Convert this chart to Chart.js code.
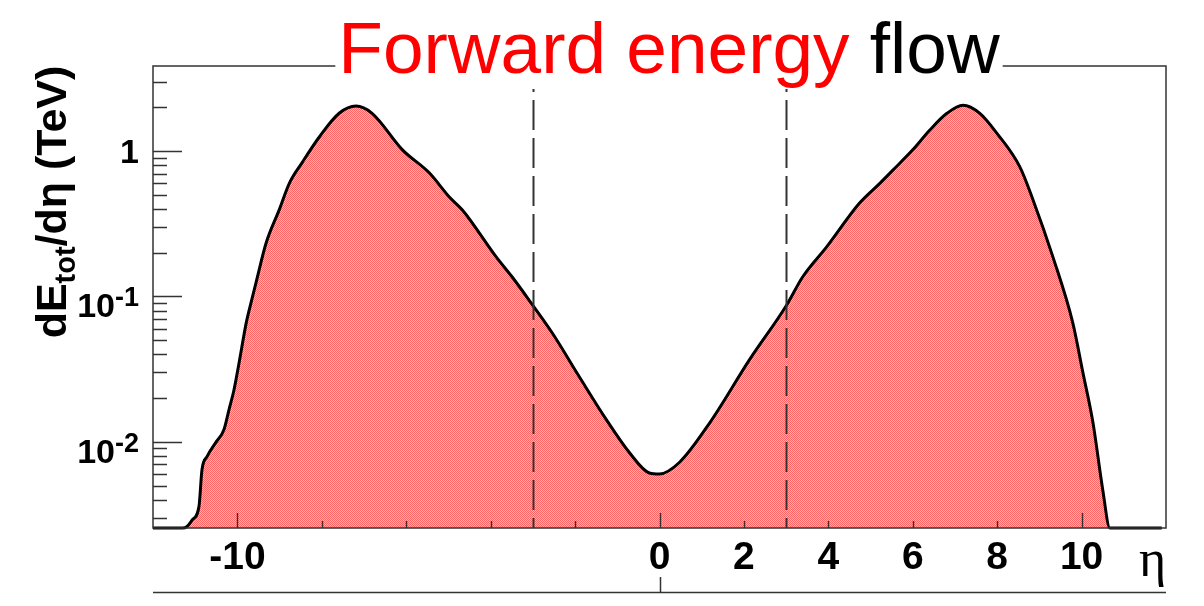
<!DOCTYPE html>
<html>
<head>
<meta charset="utf-8">
<script src="https://cdn.jsdelivr.net/npm/chart.js@4"></script>
<style>
  html, body { margin: 0; padding: 0; background: #fff; }
</style>
</head>
<body>
<canvas id="myChart" width="1204" height="606"></canvas>
<script>
// eta values and dE_tot/deta (TeV)
const eta = [-12, -11.3, -11.2, -11.07, -10.91, -10.84, -10.72, -10.51, -10.32, -10.2,
             -10.08, -9.96, -9.79, -9.68, -9.56, -9.32, -9.01, -8.77, -8.47, -8.06,
             -7.59, -7.19, -6.81, -6.09, -5.45, -4.98, -4.67, -3.87, -3.49, -3.04,
             -2.54, -1.9, -1.26, -0.71, -0.24, 0, 0.47, 1.19, 2.13, 3.01,
             3.39, 3.96, 4.74, 5.22, 5.53, 6.0, 6.4, 6.81, 7.19, 7.59,
             7.99, 8.54, 8.85, 9.32, 9.79, 10.03, 10.27, 10.5, 10.67, 11.9];
const dEdEta = [0.00255, 0.00255, 0.0026, 0.0029, 0.0036, 0.0064, 0.0079, 0.0099, 0.0121, 0.0166,
                0.0228, 0.035, 0.066, 0.09, 0.124, 0.233, 0.394, 0.60, 0.83, 1.25,
                1.82, 2.04, 1.82, 1.02, 0.706, 0.483, 0.393, 0.187, 0.136, 0.090,
                0.056, 0.028, 0.0142, 0.0084, 0.0061, 0.0060, 0.0072, 0.0135, 0.0366, 0.087,
                0.136, 0.219, 0.439, 0.60, 0.74, 1.02, 1.39, 1.82, 2.07, 1.82,
                1.33, 0.776, 0.461, 0.187, 0.066, 0.030, 0.0135, 0.0047, 0.00255, 0.00255];

const etaCuts = [-3, 3];
const xRange = [-12, 12];
const yRange = [0.00255, 3.85];
const xTickLabels = [-10, 0, 2, 4, 6, 8, 10];
const yTickValues = [1, 0.1, 0.01];
const yTickBase = ['1', '10', '10'];
const yTickExp = ['', '-1', '-2'];

const titleParts = [['Forward energy ', '#ff0000'], ['flow', '#000000']];

// red/white dithered fill like the ROOT hatch
function makeFill(){
    const c = document.createElement('canvas');
    c.width = 2; c.height = 2;
    const g = c.getContext('2d');
    g.fillStyle = '#ffb4b4'; g.fillRect(0, 0, 2, 2);
    g.fillStyle = '#ff6464'; g.fillRect(0, 0, 1, 1); g.fillRect(1, 1, 1, 1);
    return g.createPattern(c, 'repeat');
}

const chart_data = eta.map((e, i) => ({x: e, y: dEdEta[i]}));

const frameColor = '#333';

const rootStyle = {
    id: 'rootStyle',
    afterDatasetsDraw(chart){
        const ctx = chart.ctx;
        const a = chart.chartArea;
        const xs = chart.scales.x, ys = chart.scales.y;

        // dashed eta cut lines
        ctx.save();
        ctx.strokeStyle = '#333';
        ctx.lineWidth = 2;
        ctx.setLineDash([30, 8]);
        ctx.lineDashOffset = 4;
        etaCuts.forEach(v => {
            const px = Math.round(xs.getPixelForValue(v)) + 0.5;
            ctx.beginPath(); ctx.moveTo(px, a.top); ctx.lineTo(px, a.bottom); ctx.stroke();
        });
        ctx.restore();

        // frame
        ctx.save();
        ctx.strokeStyle = frameColor;
        ctx.lineWidth = 1.5;
        ctx.strokeRect(a.left, a.top, a.right - a.left, a.bottom - a.top);

        // y ticks (inside, left only)
        ctx.beginPath();
        for(let k = -3; k <= 0; k++){
            for(let m = 1; m <= 9; m++){
                const v = m * Math.pow(10, k);
                if(v < yRange[0] || v > yRange[1]) continue;
                const py = Math.round(ys.getPixelForValue(v)) + 0.5;
                const len = m === 1 ? 29 : 14;
                ctx.moveTo(a.left, py); ctx.lineTo(a.left + len, py);
            }
        }
        // x ticks (inside, bottom)
        for(let v = -10; v <= 10; v += 2){
            const px = Math.round(xs.getPixelForValue(v)) + 0.5;
            const len = v % 10 === 0 ? 15 : 7;
            ctx.moveTo(px, a.bottom); ctx.lineTo(px, a.bottom - len);
        }
        ctx.stroke();

        // second axis line under the labels
        ctx.beginPath();
        ctx.moveTo(a.left, 592.5); ctx.lineTo(a.right, 592.5);
        const p0 = Math.round(xs.getPixelForValue(0)) + 0.5;
        ctx.moveTo(p0, 592); ctx.lineTo(p0, 577);
        ctx.stroke();
        ctx.restore();

        // x tick labels
        ctx.save();
        ctx.fillStyle = '#000';
        ctx.font = 'bold 39px "Liberation Sans", Arial, sans-serif';
        ctx.textAlign = 'center';
        ctx.textBaseline = 'alphabetic';
        xTickLabels.forEach(v => {
            ctx.fillText(String(v), xs.getPixelForValue(v), 569);
        });

        // y tick labels with exponents
        ctx.textAlign = 'left';
        yTickValues.forEach((v, i) => {
            const py = ys.getPixelForValue(v);
            ctx.font = 'bold 27px "Liberation Sans", Arial, sans-serif';
            const ew = yTickExp[i] ? ctx.measureText(yTickExp[i]).width : 0;
            ctx.font = 'bold 34px "Liberation Sans", Arial, sans-serif';
            const bw = ctx.measureText(yTickBase[i]).width;
            const right = 139;
            if(yTickExp[i]){
                ctx.fillText(yTickBase[i], right - ew - bw, py + 21);
                ctx.font = 'bold 27px "Liberation Sans", Arial, sans-serif';
                ctx.fillText(yTickExp[i], right - ew, py + 10);
            } else {
                ctx.fillText(yTickBase[i], right - bw, py + 12);
            }
        });

        // eta axis title
        ctx.font = '52px "Liberation Serif", "Times New Roman", serif';
        ctx.fillText('\u03b7', 1139, 576);

        // y axis title, rotated
        ctx.translate(66, 202);
        ctx.rotate(-Math.PI / 2);
        const big = 'bold 43px "Liberation Sans", Arial, sans-serif';
        const sub = 'bold 29px "Liberation Sans", Arial, sans-serif';
        const parts = [['dE', big, 0], ['tot', sub, 9], ['/d\u03b7 (TeV)', big, 0]];
        let total = 0;
        parts.forEach(p => { ctx.font = p[1]; total += ctx.measureText(p[0]).width; });
        let x = -total / 2;
        parts.forEach(p => {
            ctx.font = p[1];
            ctx.fillText(p[0], x, p[2]);
            x += ctx.measureText(p[0]).width;
        });
        ctx.restore();

        // title on a white box across the frame top
        ctx.save();
        ctx.font = '73px "Liberation Sans", Arial, sans-serif';
        let tw = 0;
        titleParts.forEach(p => tw += ctx.measureText(p[0]).width);
        let tx = 669 - tw / 2;
        ctx.fillStyle = '#fff';
        ctx.fillRect(tx - 3, 0, tw + 6, 89);
        ctx.textBaseline = 'alphabetic';
        titleParts.forEach(p => {
            ctx.fillStyle = p[1];
            ctx.fillText(p[0], tx, 73);
            tx += ctx.measureText(p[0]).width;
        });
        ctx.restore();
    }
};

var chart_config = {
    type: 'scatter',
    data: {
        datasets: [{
            label: 'dE/deta',
            data: chart_data,
            showLine: true,
            cubicInterpolationMode: 'monotone',
            borderColor: '#000',
            borderWidth: 3,
            backgroundColor: makeFill(),
            fill: 'start',
            pointRadius: 0,
            clip: false
        }]
    },
    options: {
        responsive: false,
        animation: false,
        layout: {
            padding: {left: 153, top: 66, right: 38, bottom: 78}
        },
        scales: {
            x: {type: 'linear', min: xRange[0], max: xRange[1], display: false},
            y: {type: 'logarithmic', min: yRange[0], max: yRange[1], display: false}
        },
        plugins: {
            legend: {display: false},
            tooltip: {enabled: false}
        }
    },
    plugins: [rootStyle]
};

new Chart(document.getElementById('myChart'), chart_config);
</script>
</body>
</html>
